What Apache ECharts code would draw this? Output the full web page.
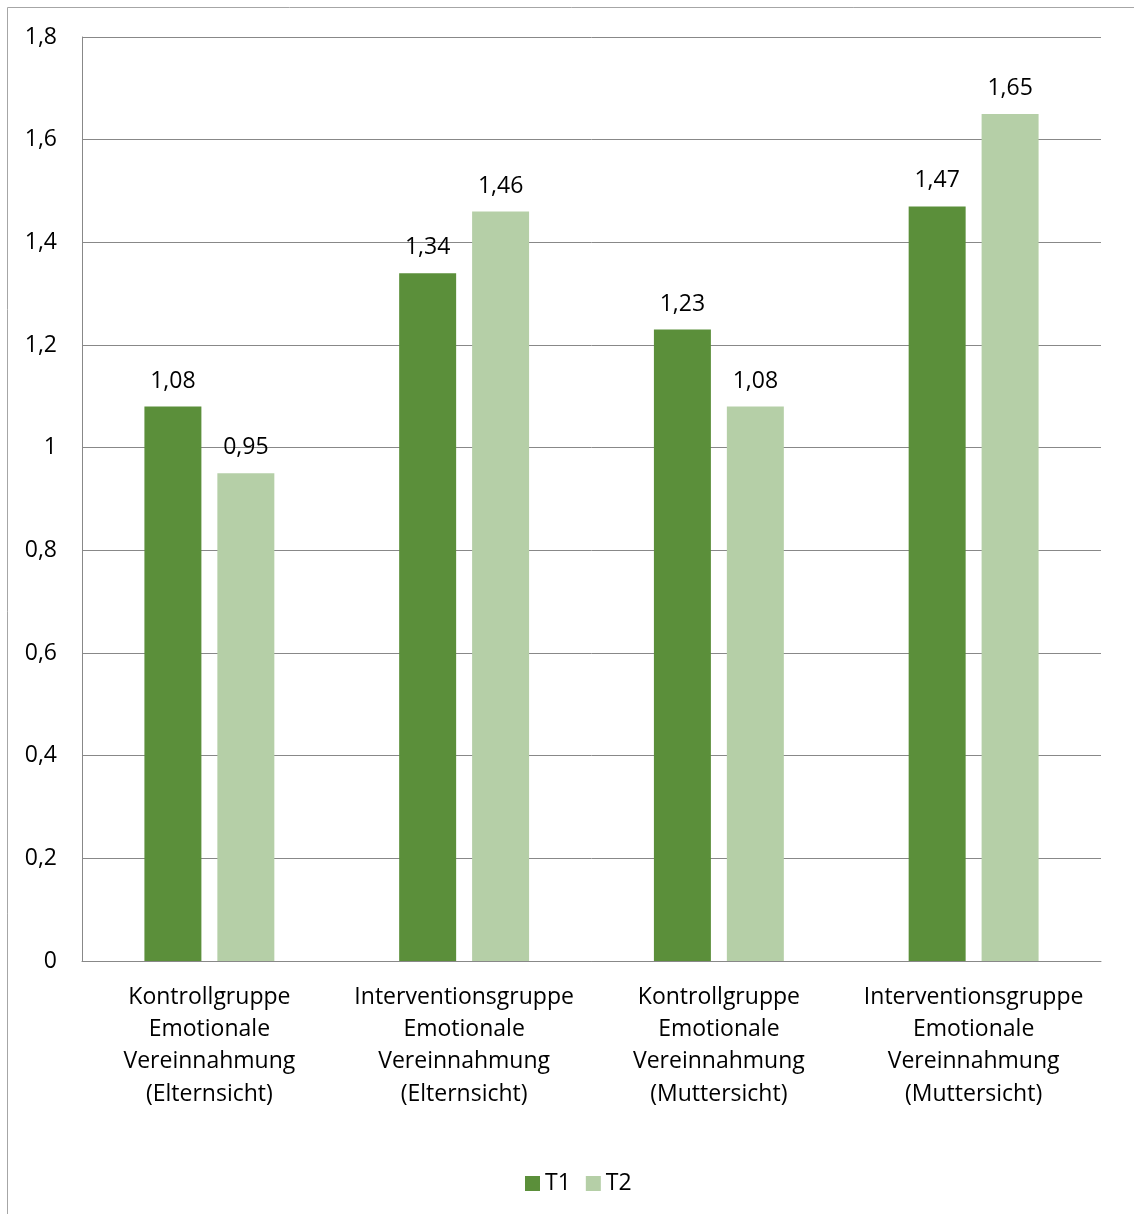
<!DOCTYPE html>
<html><head><meta charset="utf-8">
<script src="https://cdn.jsdelivr.net/npm/echarts@6/dist/echarts.min.js"></script>
<style>html,body{margin:0;padding:0;background:#fff}#c{width:1134px;height:1214px}</style>
</head><body><div id="c"></div>
<script>
const categories = [
  "Kontrollgruppe\nEmotionale\nVereinnahmung\n(Elternsicht)",
  "Interventionsgruppe\nEmotionale\nVereinnahmung\n(Elternsicht)",
  "Kontrollgruppe\nEmotionale\nVereinnahmung\n(Muttersicht)",
  "Interventionsgruppe\nEmotionale\nVereinnahmung\n(Muttersicht)"
];
const seriesNames = ["T1", "T2"];
const t1Values = [1.08, 1.34, 1.23, 1.47];
const t2Values = [0.95, 1.46, 1.08, 1.65];

const font = "'Open Sans', sans-serif";
const fs = 23;
const fmt = v => String(v).replace('.', ',');
const chart = echarts.init(document.getElementById('c'));
chart.setOption({
  animation: false,
  backgroundColor: '#fff',
  textStyle: { fontFamily: font },
  graphic: [{
    type: 'rect', shape: { x: 7.5, y: 7.5, width: 1140, height: 1220 },
    style: { fill: 'none', stroke: '#a6a6a6', lineWidth: 1 }, silent: true
  }],
  grid: { left: 82, right: 33, top: 37, bottom: 253 },
  legend: {
    bottom: 14, left: 520, itemWidth: 15, itemHeight: 15, itemGap: 15,
    icon: 'rect', padding: 5,
    textStyle: { fontSize: fs, color: '#000', fontFamily: font }
  },
  xAxis: {
    type: 'category', data: categories,
    axisLine: { show: true, lineStyle: { color: '#888', width: 1 } },
    axisTick: { show: false },
    axisLabel: { interval: 0, fontSize: fs, color: '#000', lineHeight: 32.3, margin: 20, fontFamily: font }
  },
  yAxis: {
    type: 'value', min: 0, max: 1.8, interval: 0.2,
    axisLine: { show: true, lineStyle: { color: '#888', width: 1 } },
    axisTick: { show: false },
    splitLine: { lineStyle: { color: '#888', width: 1 } },
    axisLabel: { fontSize: fs, color: '#000', margin: 25, fontFamily: font,
      formatter: v => fmt(Math.round(v * 10) / 10) }
  },
  series: [
    { name: seriesNames[0], type: 'bar', data: t1Values, barGap: '28%', barCategoryGap: '49%',
      itemStyle: { color: '#5b8f3a' },
      label: { show: true, position: 'top', distance: 14, fontSize: fs, color: '#000', fontFamily: font, formatter: p => fmt(p.value.toFixed(2)) } },
    { name: seriesNames[1], type: 'bar', data: t2Values, barGap: '28%', barCategoryGap: '49%',
      itemStyle: { color: '#b5cfa7' },
      label: { show: true, position: 'top', distance: 14, fontSize: fs, color: '#000', fontFamily: font, formatter: p => fmt(p.value.toFixed(2)) } }
  ]
});
</script></body></html>
